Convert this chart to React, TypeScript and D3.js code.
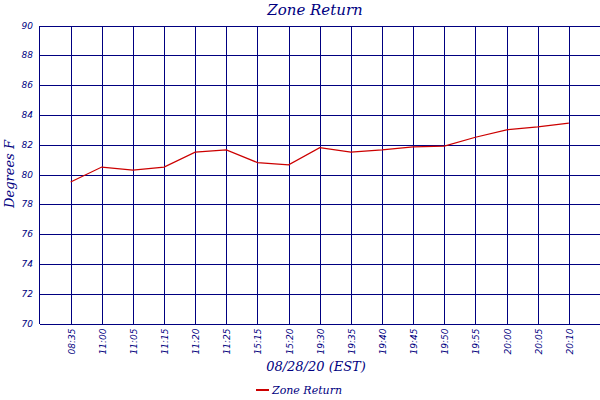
import React, { useEffect, useRef } from "react";
import * as d3 from "d3";

const times = [
  "08:35", "11:00", "11:05", "11:15", "11:20", "11:25", "15:15", "15:20",
  "19:30", "19:35", "19:40", "19:45", "19:50", "19:55", "20:00", "20:05", "20:10",
];
const zoneReturn = [
  79.5, 80.5, 80.3, 80.5, 81.5, 81.65, 80.8, 80.65,
  81.8, 81.5, 81.65, 81.85, 81.9, 82.5, 83.0, 83.2, 83.45,
];
const yTicks = [70, 72, 74, 76, 78, 80, 82, 84, 86, 88, 90];

const navy = "#000080";
const red = "#cc0000";

const App: React.FC = () => {
  const svgRef = useRef<SVGSVGElement>(null);

  useEffect(() => {
    if (!svgRef.current) return;
    const svg = d3.select(svgRef.current);
    svg.selectAll("*").remove();

    const left = 39.5;
    const right = 600;
    const top = 25.5;
    const bottom = 323.5;

    const x = d3.scaleLinear().domain([-1, times.length]).range([left, right]);
    const y = d3.scaleLinear().domain([70, 90]).range([bottom, top]);

    const grid = svg.append("g").attr("shape-rendering", "crispEdges");
    // horizontal grid
    grid
      .selectAll("line.h")
      .data(yTicks)
      .join("line")
      .attr("class", "h")
      .attr("x1", left)
      .attr("x2", right)
      .attr("y1", (d) => Math.round(y(d)) + 0.5)
      .attr("y2", (d) => Math.round(y(d)) + 0.5)
      .attr("stroke", navy)
      .attr("stroke-width", 1);
    // vertical grid
    grid
      .selectAll("line.v")
      .data(times)
      .join("line")
      .attr("class", "v")
      .attr("x1", (_, i) => Math.round(x(i)) + 0.5)
      .attr("x2", (_, i) => Math.round(x(i)) + 0.5)
      .attr("y1", top)
      .attr("y2", bottom)
      .attr("stroke", navy)
      .attr("stroke-width", 1);
    grid
      .append("line")
      .attr("x1", left)
      .attr("x2", left)
      .attr("y1", top)
      .attr("y2", bottom)
      .attr("stroke", navy)
      .attr("stroke-width", 1);

    // y tick labels
    svg
      .append("g")
      .selectAll("text")
      .data(yTicks)
      .join("text")
      .attr("x", 33)
      .attr("y", (d) => y(d) + 3)
      .attr("text-anchor", "end")
      .attr("fill", navy)
      .style("font-family", "'DejaVu Sans', sans-serif")
      .style("font-style", "italic")
      .style("font-size", "9px")
      .text((d) => d);

    // x tick labels
    svg
      .append("g")
      .selectAll("text")
      .data(times)
      .join("text")
      .attr(
        "transform",
        (_, i) => `translate(${Math.round(x(i)) + 3.5},${bottom + 5}) rotate(-90)`
      )
      .attr("text-anchor", "end")
      .attr("fill", navy)
      .style("font-family", "'DejaVu Sans', sans-serif")
      .style("font-style", "italic")
      .style("font-size", "9px")
      .text((d) => d);

    // line
    const line = d3
      .line<number>()
      .x((_, i) => x(i))
      .y((d) => y(d));
    svg
      .append("path")
      .datum(zoneReturn)
      .attr("d", line)
      .attr("fill", "none")
      .attr("stroke", red)
      .attr("stroke-width", 1.2);

    const serif = "'DejaVu Serif', 'Liberation Serif', serif";

    // title
    svg
      .append("text")
      .attr("x", 315)
      .attr("y", 15)
      .attr("text-anchor", "middle")
      .attr("fill", navy)
      .style("font-family", serif)
      .style("font-style", "italic")
      .style("font-size", "15px")
      .text("Zone Return");

    // x axis title
    svg
      .append("text")
      .attr("x", 316)
      .attr("y", 371)
      .attr("text-anchor", "middle")
      .attr("fill", navy)
      .style("font-family", serif)
      .style("font-style", "italic")
      .style("font-size", "13px")
      .text("08/28/20 (EST)");

    // y axis title
    svg
      .append("text")
      .attr("transform", `translate(14,174) rotate(-90)`)
      .attr("text-anchor", "middle")
      .attr("fill", navy)
      .style("font-family", serif)
      .style("font-style", "italic")
      .style("font-size", "13px")
      .text("Degrees F");

    // legend
    const legend = svg.append("g").attr("transform", "translate(256,390)");
    legend
      .append("line")
      .attr("x1", 0)
      .attr("x2", 13)
      .attr("y1", 0)
      .attr("y2", 0)
      .attr("stroke", red)
      .attr("stroke-width", 2);
    legend
      .append("text")
      .attr("x", 16)
      .attr("y", 4)
      .attr("fill", navy)
      .style("font-family", serif)
      .style("font-style", "italic")
      .style("font-size", "11px")
      .text("Zone Return");
  }, []);

  return (
    <svg
      ref={svgRef}
      width={600}
      height={400}
      style={{ position: "absolute", left: 0, top: 0, background: "#fff" }}
    ></svg>
  );
};

export default App;
